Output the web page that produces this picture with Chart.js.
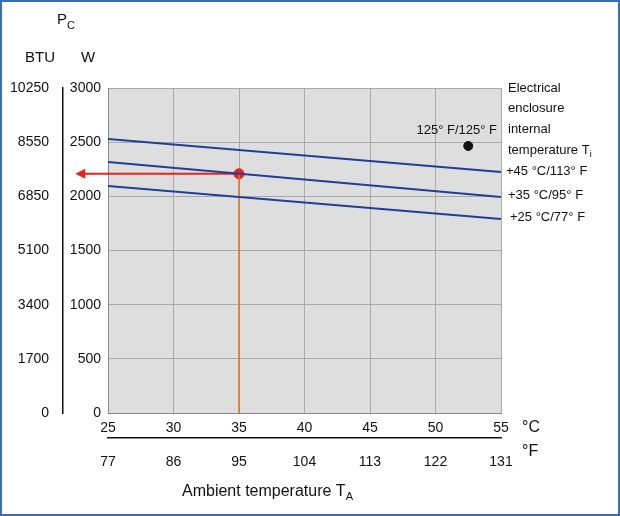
<!DOCTYPE html>
<html><head><meta charset="utf-8">
<script src="https://cdn.jsdelivr.net/npm/chart.js@4"></script>
<style>body{margin:0;background:#fff}#wrap{width:620px;height:516px}</style>
</head><body><div id="wrap"><canvas id="c" width="620" height="516"></canvas></div>
<script>
const tempC = [25, 55]
const line45 = [2530, 2225]
const line35 = [2317, 1994]
const line25 = [2095, 1791]
const opC = 35, opW = 2208
const arrowEndC = 22.5
const refC = 52.5, refW = 2465
const cTicks = [25, 30, 35, 40, 45, 50, 55]
const fLabels = ['77', '86', '95', '104', '113', '122', '131']
const wTicks = [0, 500, 1000, 1500, 2000, 2500, 3000]
const btuLabels = ['0', '1700', '3400', '5100', '6850', '8550', '10250']
const lineLabels = ['+45 °C/113° F', '+35 °C/95° F', '+25 °C/77° F']

const FONT = 'Liberation Sans, Arial, sans-serif'
const pts = (ys) => tempC.map((x, i) => ({x: x, y: ys[i]}))

const extras = {
  id: 'extras',
  beforeDraw(chart) {
    const a = chart.chartArea, c = chart.ctx
    c.save()
    c.fillStyle = '#fff'; c.fillRect(0, 0, 620, 516)
    c.fillStyle = '#dedede'; c.fillRect(a.left, a.top, a.right - a.left, a.bottom - a.top)
    c.restore()
  },
  afterDraw(chart) {
    const c = chart.ctx, x = chart.scales.x, y = chart.scales.y
    c.save()
    // arrow head
    const ax = x.getPixelForValue(arrowEndC), ay = y.getPixelForValue(opW)
    c.fillStyle = '#e8241c'
    c.beginPath(); c.moveTo(ax, ay); c.lineTo(ax + 10, ay - 5); c.lineTo(ax + 10, ay + 5); c.closePath(); c.fill()
    c.fillStyle = '#111'; c.font = '15px ' + FONT
    c.textBaseline = 'middle'
    c.textAlign = 'left'
    c.fillText('P', 57, 20); c.font = '11px ' + FONT; c.fillText('C', 67, 26)
    c.font = '15px ' + FONT
    c.textAlign = 'center'
    c.fillText('BTU', 40, 58); c.fillText('W', 88, 58)
    c.font = '16px ' + FONT; c.textAlign = 'left'
    c.fillText('°C', 522, 428); c.fillText('°F', 522, 452)
    // title
    c.font = '16px ' + FONT
    c.fillText('Ambient temperature T', 182, 492)
    const tw = c.measureText('Ambient temperature T').width
    c.font = '11px ' + FONT; c.fillText('A', 182 + tw, 497)
    // right labels
    c.font = '13px ' + FONT
    c.fillText('Electrical', 508, 88); c.fillText('enclosure', 508, 108)
    c.fillText('internal', 508, 129); c.fillText('temperature T', 508, 150)
    const t2 = c.measureText('temperature T').width
    c.font = '9px ' + FONT; c.fillText('i', 508 + t2, 155)
    c.font = '13px ' + FONT
    c.fillText(lineLabels[0], 506, 171); c.fillText(lineLabels[1], 508, 195); c.fillText(lineLabels[2], 510, 217)
    c.textAlign = 'right'
    c.fillText('125° F/125° F', 497, 130)
    // frame
    c.strokeStyle = '#3a6fb5'; c.lineWidth = 2; c.strokeRect(1, 1, 618, 514)
    c.restore()
  }
}

new Chart(document.getElementById('c'), {
  type: 'scatter',
  data: {
    datasets: [
      {data: pts(line45), showLine: true, borderColor: '#1f3f99', borderWidth: 2, pointRadius: 0},
      {data: pts(line35), showLine: true, borderColor: '#1f3f99', borderWidth: 2, pointRadius: 0},
      {data: pts(line25), showLine: true, borderColor: '#1f3f99', borderWidth: 2, pointRadius: 0},
      {data: [{x: opC, y: opW}, {x: opC, y: 0}], showLine: true, borderColor: '#e0702a', borderWidth: 1.5, pointRadius: 0},
      {data: [{x: opC, y: opW}, {x: arrowEndC + 0.6, y: opW}], showLine: true, borderColor: '#e8241c', borderWidth: 2, pointRadius: 0, clip: false},
      {data: [{x: opC, y: opW}], pointRadius: 5, backgroundColor: '#e8241c', borderColor: '#e8241c'},
      {data: [{x: refC, y: refW}], pointRadius: 4.5, backgroundColor: '#111', borderColor: '#111'}
    ]
  },
  options: {
    responsive: false, animation: false,
    layout: {padding: {top: 88, right: 119, bottom: 48, left: 5}},
    plugins: {legend: {display: false}, tooltip: {enabled: false}},
    scales: {
      x: {type: 'linear', min: 25, max: 55, position: 'bottom', weight: 0,
        afterBuildTicks: s => { s.ticks = cTicks.map(v => ({value: v})) },
        afterFit: s => { s.height = 25 },
        grid: {color: '#a9a9a9', drawTicks: false},
        border: {color: '#888'},
        ticks: {color: '#111', font: {size: 14, family: FONT}, padding: 7, callback: v => String(v)}},
      x2: {type: 'linear', min: 25, max: 55, position: 'bottom', weight: 1,
        afterBuildTicks: s => { s.ticks = cTicks.map(v => ({value: v})) },
        afterFit: s => { s.height = 30 },
        grid: {display: false},
        border: {color: '#111', width: 1.5},
        ticks: {color: '#111', font: {size: 14, family: FONT}, padding: 8, callback: (v, i) => fLabels[i]}},
      y: {type: 'linear', min: 0, max: 3000, position: 'left', weight: 0,
        afterBuildTicks: s => { s.ticks = wTicks.map(v => ({value: v})) },
        afterFit: s => { s.width = 45 },
        grid: {color: '#a9a9a9', drawTicks: false},
        border: {color: '#888'},
        ticks: {color: '#111', font: {size: 14, family: FONT}, padding: 7, callback: v => String(v)}},
      y2: {type: 'linear', min: 0, max: 3000, position: 'left', weight: 1,
        afterBuildTicks: s => { s.ticks = wTicks.map(v => ({value: v})) },
        afterFit: s => { s.width = 58 },
        grid: {display: false},
        border: {color: '#111', width: 1.5},
        ticks: {color: '#111', font: {size: 14, family: FONT}, padding: 6, callback: (v, i) => btuLabels[i]}}
    }
  },
  plugins: [extras]
})
</script></body></html>
